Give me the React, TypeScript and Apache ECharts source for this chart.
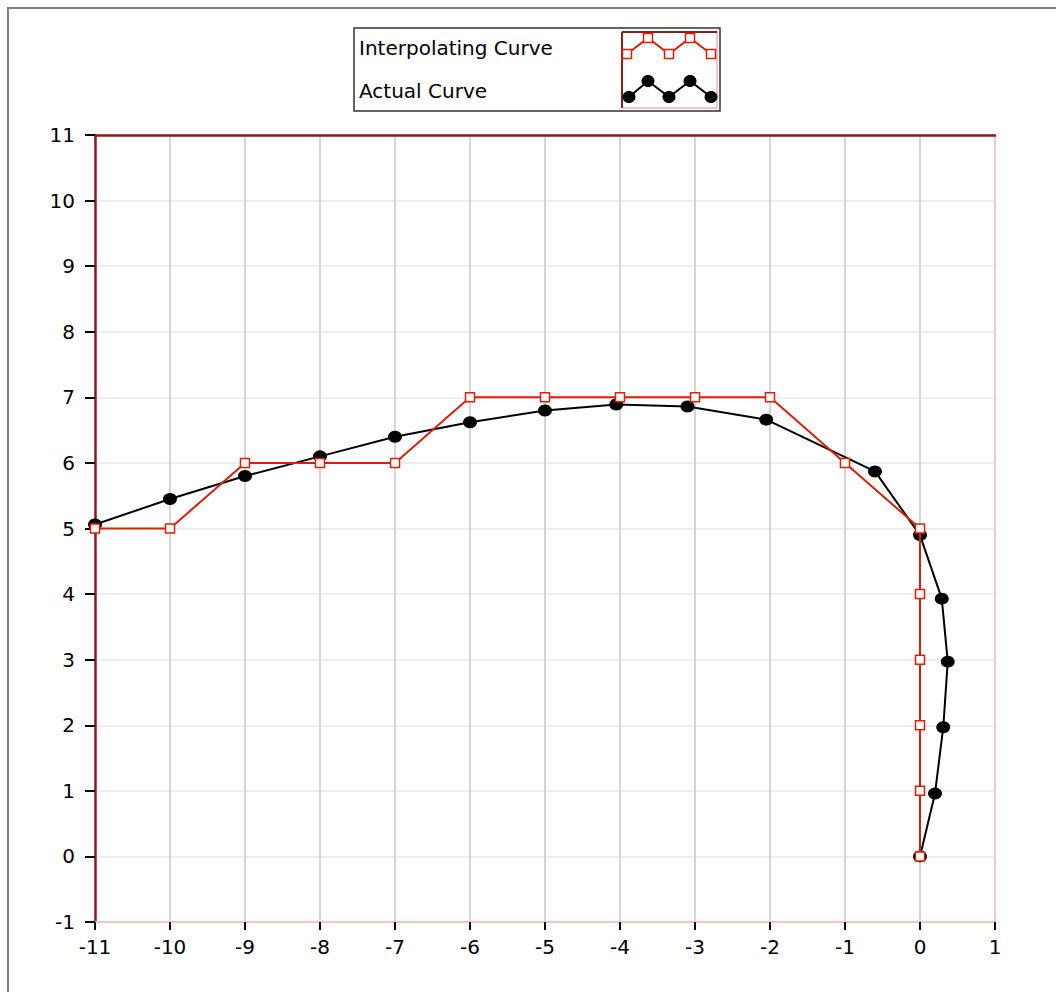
import React, { useEffect, useRef } from "react";
import * as echarts from "echarts";

const seriesNames = ["Interpolating Curve", "Actual Curve"];

const interpX = [-11, -10, -9, -8, -7, -6, -5, -4, -3, -2, -1, 0, 0, 0, 0, 0, 0];
const interpY = [5, 5, 6, 6, 6, 7, 7, 7, 7, 7, 6, 5, 4, 3, 2, 1, 0];

const actualX = [-11, -10, -9, -8, -7, -6, -5, -4.05, -3.1, -2.05, -0.6, 0, 0.29, 0.37, 0.31, 0.2, 0];
const actualY = [5.06, 5.45, 5.8, 6.1, 6.4, 6.62, 6.8, 6.89, 6.86, 6.66, 5.87, 4.9, 3.93, 2.97, 1.97, 0.96, 0];

const xTicks = [-11, -10, -9, -8, -7, -6, -5, -4, -3, -2, -1, 0, 1];
const yTicks = [-1, 0, 1, 2, 3, 4, 5, 6, 7, 8, 9, 10, 11];

const RED = "#dd1e0a";
const DARKRED = "#8b1c1c";
const PINK = "#f6c4c4";
const FONT = "DejaVu Sans";
const FS = 20;

export default function App() {
  const ref = useRef<HTMLDivElement>(null);
  useEffect(() => {
    if (!ref.current) return;
    const chart = echarts.init(ref.current, undefined, { renderer: "svg" });
    const interpData = interpX.map((x, i) => [x, interpY[i]]);
    const actualData = actualX.map((x, i) => [x, actualY[i]]);

    const redPts = [[618, 45], [639, 29], [660, 45], [681, 29], [702, 45]];
    const blackPts = [[620, 88], [639, 72], [660, 88], [681, 72], [702, 88]];

    const legendGraphics: any[] = [
      { type: "rect", shape: { x: 345, y: 19, width: 366, height: 83 }, style: { fill: "#fff", stroke: "#333", lineWidth: 1.5 }, z: 10 },
      { type: "text", x: 350, y: 39, style: { text: seriesNames[0], font: `${FS}px '${FONT}'`, fill: "#000", textVerticalAlign: "middle" }, z: 11 },
      { type: "text", x: 350, y: 82, style: { text: seriesNames[1], font: `${FS}px '${FONT}'`, fill: "#000", textVerticalAlign: "middle" }, z: 11 },
      { type: "line", shape: { x1: 613, y1: 99, x2: 708, y2: 99 }, style: { stroke: PINK, lineWidth: 2 }, z: 11 },
      { type: "line", shape: { x1: 708, y1: 23, x2: 708, y2: 99 }, style: { stroke: PINK, lineWidth: 2 }, z: 11 },
      { type: "line", shape: { x1: 613, y1: 23, x2: 708, y2: 23 }, style: { stroke: DARKRED, lineWidth: 2 }, z: 11 },
      { type: "line", shape: { x1: 613, y1: 23, x2: 613, y2: 99 }, style: { stroke: DARKRED, lineWidth: 2 }, z: 11 },
      { type: "polyline", shape: { points: blackPts }, style: { stroke: "#000", lineWidth: 2, fill: null }, z: 12 },
      ...blackPts.map((p) => ({ type: "ellipse", shape: { cx: p[0], cy: p[1], rx: 6.5, ry: 6 }, style: { fill: "#000" }, z: 13 })),
      { type: "polyline", shape: { points: redPts }, style: { stroke: RED, lineWidth: 2, fill: null }, z: 12 },
      ...redPts.map((p) => ({ type: "rect", shape: { x: p[0] - 4.5, y: p[1] - 4.5, width: 9, height: 9 }, style: { fill: "#fff", stroke: RED, lineWidth: 1.5 }, z: 13 })),
    ];

    chart.setOption({
      animation: false,
      backgroundColor: "#fff",
      textStyle: { fontFamily: FONT },
      grid: { left: 86, right: 61, top: 126, bottom: 70, containLabel: false },
      xAxis: [
        {
          type: "value",
          min: xTicks[0],
          max: xTicks[xTicks.length - 1],
          interval: 1,
          position: "bottom",
          axisLine: { show: true, onZero: false, lineStyle: { color: PINK, width: 2 } },
          axisTick: { show: true, inside: false, length: 8, lineStyle: { color: "#000", width: 2 } },
          axisLabel: { color: "#000", fontSize: FS, fontFamily: FONT, margin: 15 },
          splitLine: { show: true, lineStyle: { color: "#c8c8c8", width: 1.5 } },
        },
        {
          type: "value",
          min: xTicks[0],
          max: xTicks[xTicks.length - 1],
          interval: 1,
          position: "top",
          axisLine: { show: true, onZero: false, lineStyle: { color: DARKRED, width: 2.5 } },
          axisTick: { show: false },
          axisLabel: { show: false },
          splitLine: { show: false },
        },
      ],
      yAxis: [
        {
          type: "value",
          min: yTicks[0],
          max: yTicks[yTicks.length - 1],
          interval: 1,
          position: "left",
          axisLine: { show: true, onZero: false, lineStyle: { color: DARKRED, width: 2.5 } },
          axisTick: { show: true, inside: false, length: 10, lineStyle: { color: "#000", width: 2 } },
          axisLabel: { color: "#000", fontSize: FS, fontFamily: FONT, margin: 20 },
          splitLine: { show: true, lineStyle: { color: "#e8e8e8", width: 1.5 } },
        },
        {
          type: "value",
          min: yTicks[0],
          max: yTicks[yTicks.length - 1],
          interval: 1,
          position: "right",
          axisLine: { show: true, onZero: false, lineStyle: { color: PINK, width: 1.5 } },
          axisTick: { show: false },
          axisLabel: { show: false },
          splitLine: { show: false },
        },
      ],
      series: [
        {
          name: seriesNames[1],
          type: "line",
          data: actualData,
          xAxisIndex: 0,
          yAxisIndex: 0,
          symbol: "circle",
          symbolSize: [14, 12],
          showAllSymbol: true,
          lineStyle: { color: "#000", width: 2 },
          itemStyle: { color: "#000" },
          z: 3,
        },
        {
          name: seriesNames[0],
          type: "line",
          data: interpData,
          xAxisIndex: 0,
          yAxisIndex: 0,
          symbol: "rect",
          symbolSize: 9,
          showAllSymbol: true,
          lineStyle: { color: RED, width: 2 },
          itemStyle: { color: "#fff", borderColor: RED, borderWidth: 1.5 },
          z: 4,
        },
      ],
      graphic: legendGraphics,
    });
    return () => chart.dispose();
  }, []);

  return (
    <div
      style={{
        position: "absolute",
        left: 7,
        top: 7,
        width: 1049,
        height: 985,
        boxSizing: "border-box",
        borderTop: "2px solid #808080",
        borderLeft: "2px solid #808080",
        background: "#fff",
        overflow: "hidden",
      }}
    >
      <div ref={ref} style={{ width: 1047, height: 983 }} />
    </div>
  );
}
